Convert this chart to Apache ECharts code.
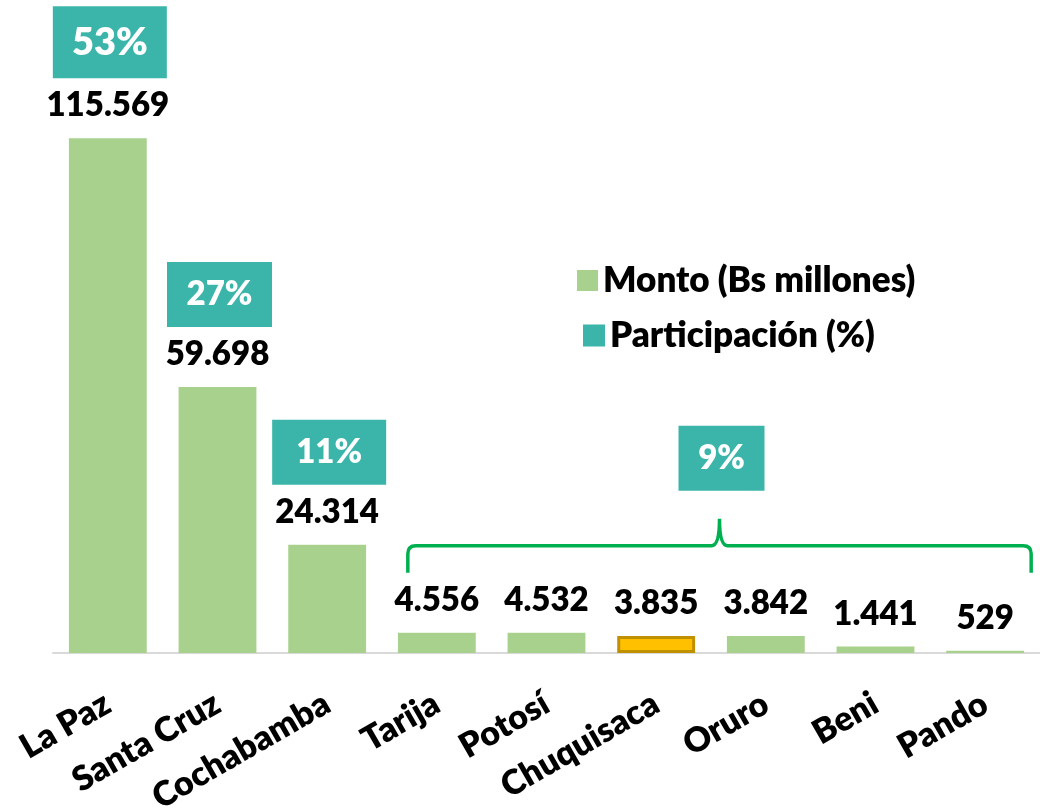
<!DOCTYPE html>
<html>
<head>
<meta charset="utf-8">
<script src="https://cdn.jsdelivr.net/npm/echarts@6/dist/echarts.min.js"></script>
<style>
  html, body { margin: 0; padding: 0; background: #fff; }
  #chart { width: 1040px; height: 811px; }
</style>
</head>
<body>
<div id="chart"></div>
<script>
// departamentos y montos (Bs millones)
const departamentos = ['La Paz', 'Santa Cruz', 'Cochabamba', 'Tarija', 'Potosí', 'Chuquisaca', 'Oruro', 'Beni', 'Pando'];
const monto = [115569, 59698, 24314, 4556, 4532, 3835, 3842, 1441, 529];
// participación (%) por grupo de departamentos [desde, hasta]
const participacion = [53, 27, 11, 9];
const grupos = [[0, 0], [1, 1], [2, 2], [3, 8]];
const destacado = 'Chuquisaca';

const FONT = 'Lato, "Open Sans", sans-serif';
const WEIGHT = 800;
const GREEN = '#A9D18E';
const TEAL = '#3BB5AA';
const boxW = [114, 105, 114, 86];
const boxH = [72, 65, 65, 65];
const boxFont = [38, 33, 33, 33];

function fmt(v) {
  return String(v).replace(/\B(?=(\d{3})+(?!\d))/g, '.');
}

function renderPct(params, api) {
  const i = params.dataIndex;
  const s = api.value(0), e = api.value(1);
  const top = Math.max(...monto.slice(s, e + 1));
  const ps = api.coord([s, top]);
  const pe = api.coord([e, top]);
  const yTop = ps[1];
  const children = [];
  let cx, bottom;
  if (s === e) {
    cx = ps[0] + 2;
    bottom = yTop - 60;
  } else {
    const left = ps[0] - 29, right = pe[0] + 46;
    const mid = (left + right) / 2;
    const hY = yTop - 87, tipY = yTop - 60, peakY = yTop - 114, r = 8;
    children.push({
      type: 'path',
      shape: {
        pathData:
          `M${left},${tipY} L${left},${hY + r} Q${left},${hY} ${left + r},${hY} ` +
          `L${mid - r},${hY} Q${mid},${hY} ${mid},${peakY} Q${mid},${hY} ${mid + r},${hY} ` +
          `L${right - r},${hY} Q${right},${hY} ${right},${hY + r} L${right},${tipY}`
      },
      style: { fill: 'none', stroke: '#00B050', lineWidth: 3.5 }
    });
    cx = mid + 2;
    bottom = yTop - 142;
  }
  const w = boxW[i], h = boxH[i];
  children.push({
    type: 'rect',
    shape: { x: cx - w / 2, y: bottom - h, width: w, height: h },
    style: { fill: TEAL }
  });
  children.push({
    type: 'text',
    x: cx, y: bottom - h / 2,
    style: {
      text: api.value(2) + '%',
      fill: '#fff',
      font: `${WEIGHT} ${boxFont[i]}px ${FONT}`,
      align: 'center',
      verticalAlign: 'middle'
    }
  });
  return { type: 'group', children };
}

const chart = echarts.init(document.getElementById('chart'));
chart.setOption({
  animation: false,
  textStyle: { fontFamily: FONT },
  grid: { left: 53, right: 0, top: 74, bottom: 158, outerBoundsMode: 'none' },
  legend: [
    {
      data: ['Monto (Bs millones)'],
      left: 572, top: 258,
      icon: 'rect', itemWidth: 21, itemHeight: 21, itemGap: 10,
      textStyle: { fontSize: 35, fontWeight: WEIGHT, color: '#000', fontFamily: FONT }
    },
    {
      data: ['Participación (%)'],
      left: 578, top: 313,
      icon: 'rect', itemWidth: 22, itemHeight: 22, itemGap: 10,
      textStyle: { fontSize: 35, fontWeight: WEIGHT, color: '#000', fontFamily: FONT }
    }
  ],
  xAxis: {
    type: 'category',
    data: departamentos,
    axisLine: { lineStyle: { color: '#D9D9D9', width: 2 } },
    axisTick: { show: false },
    axisLabel: {
      interval: 0,
      rotate: 30,
      margin: 48,
      fontSize: 34,
      fontWeight: WEIGHT,
      color: '#000',
      fontFamily: FONT
    }
  },
  yAxis: {
    type: 'value',
    min: 0,
    max: 130000,
    show: false,
    splitLine: { show: false }
  },
  series: [
    {
      name: 'Monto (Bs millones)',
      type: 'bar',
      barCategoryGap: '29%',
      itemStyle: { color: GREEN },
      data: monto.map((v, i) => departamentos[i] === destacado
        ? { value: v, itemStyle: { color: '#FFC000', borderColor: '#BF9000', borderWidth: 3 } }
        : v),
      label: {
        show: true,
        position: 'top',
        distance: 16,
        formatter: p => fmt(p.value),
        fontSize: 33,
        lineHeight: 33,
        fontWeight: WEIGHT,
        color: '#000',
        fontFamily: FONT
      }
    },
    {
      name: 'Participación (%)',
      type: 'custom',
      itemStyle: { color: TEAL },
      clip: false,
      z: 5,
      encode: { x: [0, 1], y: 2 },
      data: participacion.map((p, i) => [grupos[i][0], grupos[i][1], p]),
      renderItem: renderPct
    }
  ]
});
</script>
</body>
</html>
